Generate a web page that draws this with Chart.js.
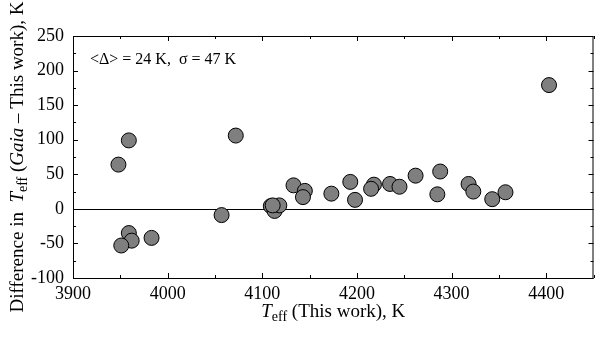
<!DOCTYPE html>
<html><head><meta charset="utf-8">
<script src="https://cdn.jsdelivr.net/npm/chart.js@4/dist/chart.umd.min.js"></script>
<style>html,body{margin:0;padding:0;background:#fff}#wrap{width:602px;height:342px;position:relative}</style>
</head><body><div id="wrap"><canvas id="c"></canvas></div>
<script>
// ─── DATA ────────────────────────────────────────────────────
const teffThis=[3948,3959,4072,3959,3962,3951,3983,4057,4109,4113,4118,4111,4133,4145,4143,4173,4193,4198,4218,4215,4235,4245,4262,4288,4285,4318,4323,4343,4357,4403];
const teffDiff=[64,99,106,-35,-46,-53,-42,-9,4,-3,5,5,34,26,17,22,39,13,35,29,36,32,48,54,21,36,25,14,24,179];
const xTicks=[3900,4000,4100,4200,4300,4400];
const yTicks=[-100,-50,0,50,100,150,200,250];
const statText='<Δ> = 24 K,  σ = 47 K';

const SERIF='"Liberation Serif","DejaVu Serif",serif';

// ─── PLUGIN: frame, inward ticks, zero line, titles ──────────
const frame={id:'frame',
  beforeDatasetsDraw(chart){
    const{ctx,chartArea:a,scales:{y}}=chart;
    ctx.save();ctx.strokeStyle='#000';ctx.lineWidth=1.2;
    const y0=Math.round(y.getPixelForValue(0))+.5;
    ctx.beginPath();ctx.moveTo(a.left,y0);ctx.lineTo(a.right,y0);ctx.stroke();
    ctx.restore();
  },
  afterDraw(chart){
    const{ctx,chartArea:a,scales:{x,y}}=chart;
    ctx.save();ctx.strokeStyle='#000';ctx.lineWidth=1;
    ctx.strokeRect(a.left+.5,a.top+.5,a.right-a.left-1,a.bottom-a.top);
    ctx.beginPath();
    for(let v=3900;v<=4450;v+=50){const p=Math.round(x.getPixelForValue(v))+.5,L=v%100===0?5:3;
      ctx.moveTo(p,a.bottom);ctx.lineTo(p,a.bottom-L);ctx.moveTo(p,a.top);ctx.lineTo(p,a.top+L)}
    for(let v=-100;v<=250;v+=25){const p=Math.round(y.getPixelForValue(v))+.5,L=v%50===0?5:3;
      ctx.moveTo(a.left,p);ctx.lineTo(a.left+L,p);ctx.moveTo(a.right,p);ctx.lineTo(a.right-L,p)}
    ctx.stroke();
    // stats annotation
    ctx.fillStyle='#000';ctx.font='16px '+SERIF;ctx.textBaseline='alphabetic';ctx.textAlign='left';
    ctx.fillText(statText,a.left+17,a.top+28);
    // x title: T_eff (This work), K
    drawParts(ctx,[['T','italic 19px '],['eff','14px ',4],[' (This work), K','19px ']],(a.left+a.right)/2,317);
    // y title rotated
    ctx.translate(17,(a.top+a.bottom)/2);ctx.rotate(-Math.PI/2);
    drawParts(ctx,[['Difference in  ','19px '],['T','italic 19px '],['eff','14px ',4],[' (','19px '],['Gaia','italic 19px '],[' \u2013 This work), K','19px ']],0,6);
    ctx.restore();
  }};
function drawParts(ctx,parts,cx,base){
  let w=0;parts.forEach(p=>{ctx.font=p[1]+SERIF;w+=ctx.measureText(p[0]).width});
  let xx=cx-w/2;ctx.textAlign='left';
  parts.forEach(p=>{ctx.font=p[1]+SERIF;ctx.fillText(p[0],xx,base+(p[2]||0));xx+=ctx.measureText(p[0]).width});
}

// ─── CHART ───────────────────────────────────────────────────
Chart.defaults.font.family=SERIF;
new Chart(document.getElementById('c'),{
  type:'scatter',
  data:{datasets:[{data:teffThis.map((v,i)=>({x:v,y:teffDiff[i]})),
    backgroundColor:'#7f7f7f',borderColor:'#000',borderWidth:1,pointRadius:7.5,pointHoverRadius:7.5}]},
  options:{responsive:true,maintainAspectRatio:false,animation:false,
    layout:{padding:{top:36,right:1,left:0,bottom:0}},
    plugins:{legend:{display:false},tooltip:{enabled:false}},
    scales:{
      x:{type:'linear',min:3900,max:4450,grid:{display:false,drawTicks:false},border:{display:false},
        afterBuildTicks:s=>{s.ticks=xTicks.map(v=>({value:v}))},
        afterFit:s=>{s.height=64},
        ticks:{color:'#000',font:{size:18},padding:5,maxRotation:0,autoSkip:false,callback:v=>String(v)}},
      y:{min:-100,max:250,grid:{display:false,drawTicks:false},border:{display:false},
        afterBuildTicks:s=>{s.ticks=yTicks.map(v=>({value:v}))},
        afterFit:s=>{s.width=73},
        ticks:{color:'#000',font:{size:18},padding:9,callback:v=>String(v)}}
    }},
  plugins:[frame]
});
</script></body></html>
